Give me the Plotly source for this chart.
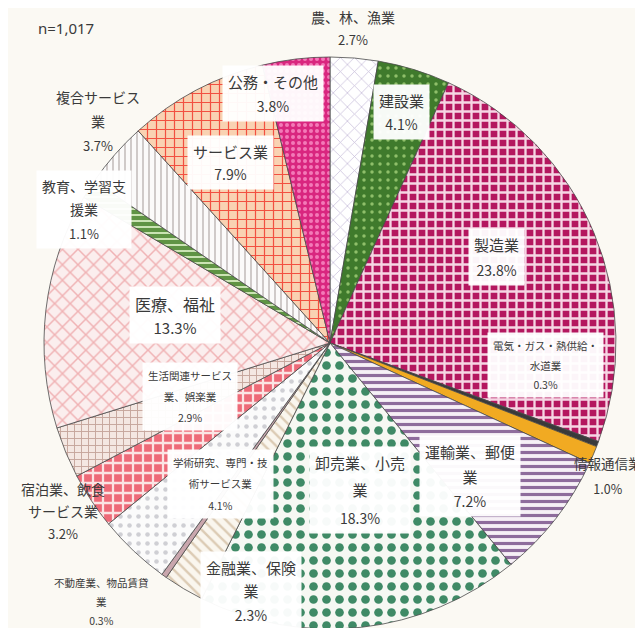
import plotly.graph_objects as go

W, H = 643, 628

industries = [
    "農、林、漁業", "建設業", "製造業", "電気・ガス・熱供給・水道業", "情報通信業",
    "運輸業、郵便業", "卸売業、小売業", "金融業、保険業", "不動産業、物品賃貸業",
    "学術研究、専門・技術サービス業", "宿泊業、飲食サービス業", "生活関連サービス業、娯楽業",
    "医療、福祉", "教育、学習支援業", "複合サービス業", "サービス業", "公務・その他",
]
shares = [2.7, 4.1, 23.8, 0.3, 1.0, 7.2, 18.3, 2.3, 0.3, 4.1, 3.2, 2.9, 13.3, 1.1, 3.7, 7.9, 3.8]
label_lines = [
    ["農、林、漁業"], ["建設業"], ["製造業"], ["電気・ガス・熱供給・", "水道業"], ["情報通信業"],
    ["運輸業、郵便", "業"], ["卸売業、小売", "業"], ["金融業、保険", "業"], ["不動産業、物品賃貸", "業"],
    ["学術研究、専門・技", "術サービス業"], ["宿泊業、飲食", "サービス業"], ["生活関連サービス", "業、娯楽業"],
    ["医療、福祉"], ["教育、学習支", "援業"], ["複合サービス", "業"], ["サービス業"], ["公務・その他"],
]
sample_note = "n=1,017"

# styling per slice: (shape, fg, bg, size, solidity)
styles = [
    ("x", "#c9c0da", "#ffffff", 10, 0.15),
    (".", "#8fbf6a", "#3f7a2c", 8, 0.15),
    ("+", "#f6d6e4", "#b4175f", 9, 0.45),
    ("", "#3a3a3a", "#3a3a3a", 8, 0.3),
    ("", "#f1aa22", "#f1aa22", 8, 0.3),
    ("-", "#8e6c9c", "#f6f0f6", 7, 0.45),
    (".", "#3f8a66", "#f6f8f3", 13, 0.35),
    ("\\", "#dccbb4", "#faf6ee", 8, 0.3),
    ("", "#c9a6ad", "#c9a6ad", 8, 0.3),
    (".", "#cfcfd4", "#fbfbfb", 9, 0.2),
    ("+", "#fbe4e4", "#ee6a78", 10, 0.4),
    ("+", "#c5a59c", "#f4e7e2", 7, 0.25),
    ("x", "#f0b2b4", "#fbeeee", 11, 0.25),
    ("-", "#d6ecc0", "#5f9444", 6, 0.3),
    ("|", "#b3aaa9", "#fbfafa", 6, 0.2),
    ("+", "#f25040", "#f9d2b2", 9, 0.25),
    (".", "#f37ab8", "#d9267f", 6, 0.35),
]

# label centres in pixels: (x, y, boxed, text size, line spacing size)
label_pos = [
    (345, 28, False, 14, 17), (393, 112, True, 15, 18), (488, 257, True, 15, 19), (537, 365, True, 10.5, 15),
    (600, 475, False, 13.5, 19), (462, 476, True, 15, 19), (352, 490, True, 15, 21), (243, 591, True, 15, 18),
    (93, 601, False, 10.5, 14.5), (212, 484, True, 10.5, 16.5), (55, 511, False, 14, 17), (182, 396, True, 10.5, 16),
    (167, 315, True, 16, 18), (76, 209, True, 14, 18), (90, 121, False, 14, 18.5), (223, 162, True, 15, 17),
    (265, 93, True, 15, 18.5),
]

cx, cy, r = 322, 335, 286

fig = go.Figure()
fig.add_trace(go.Pie(
    labels=industries, values=shares, sort=False, direction="clockwise", rotation=0,
    textinfo="none", hoverinfo="label+percent",
    domain=dict(x=[(cx - r) / W, (cx + r) / W], y=[(H - cy - r) / H, (H - cy + r) / H]),
    marker=dict(
        colors=[s[2] for s in styles],
        line=dict(color="#4a4a4a", width=0.8),
        pattern=dict(
            shape=[s[0] for s in styles], fgcolor=[s[1] for s in styles],
            bgcolor=[s[2] for s in styles], size=[s[3] for s in styles],
            solidity=[s[4] for s in styles], fillmode="replace",
        ),
    ),
    showlegend=False,
))

for lines, val, (px, py, boxed, fs, ls) in zip(label_lines, shares, label_pos):
    rows = [f"<span style='font-size:{fs}px'>{t}</span>" for t in lines]
    rows.append(f"<span style='font-size:{fs - 1 if fs > 12 else fs}px'>{val:.1f}%</span>")
    fig.add_annotation(
        x=px / W, y=1 - py / H, xref="paper", yref="paper", showarrow=False,
        xanchor="center", yanchor="middle", yshift=8,
        text="<br>".join(rows),
        font=dict(size=ls, color="#3a3a3a", family="Noto Sans CJK JP"),
        bgcolor="rgba(255,255,255,0.96)" if boxed else "rgba(0,0,0,0)",
        borderpad=5, align="center",
    )

fig.add_annotation(x=28 / W, y=1 - 20 / H, xref="paper", yref="paper", showarrow=False,
                   xanchor="left", yanchor="middle", text=sample_note,
                   font=dict(size=15, color="#3a3a3a", family="Noto Sans"))

fig.update_layout(
    width=W, height=H, margin=dict(l=0, r=0, t=0, b=0),
    paper_bgcolor="#fbf9f3", plot_bgcolor="#fbf9f3",
    font=dict(family="Noto Sans CJK JP"),
)
fig.write_html("out.html")
